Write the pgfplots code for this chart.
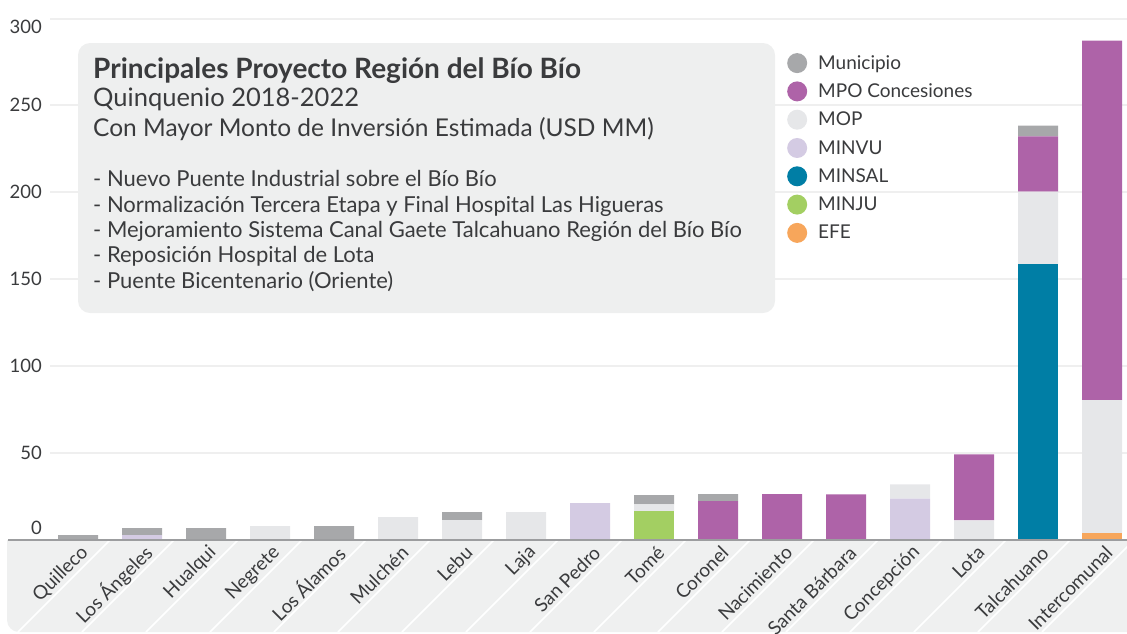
\documentclass[border=0pt]{standalone}
\usepackage{pgfplots}
\pgfplotsset{compat=1.18}
\usepackage{pgfplotstable}
\usepackage{fontspec}
\setmainfont{Lato}
\definecolor{cMun}{HTML}{A7A8AA}
\definecolor{cMPO}{HTML}{AE63A8}
\definecolor{cMOP}{HTML}{E6E7E9}
\definecolor{cMINVU}{HTML}{D4CBE3}
\definecolor{cMINSAL}{HTML}{007EA5}
\definecolor{cMINJU}{HTML}{A3CF62}
\definecolor{cEFE}{HTML}{F7A65B}
\definecolor{bandc}{HTML}{EFF0F0}
\definecolor{boxc}{HTML}{EEEFEF}
\definecolor{gridc}{HTML}{EFEFEF}
\definecolor{basec}{HTML}{9C9D9F}
\definecolor{textc}{HTML}{3A3B3D}

\pgfplotstableread{
x  EFE MINJU MINSAL MINVU MOP  MPO  Mun
0  0   0     0      0     0    0    2.5
1  0   0     0      2.5   0    0    4.0
2  0   0     0      0     0    0    6.5
3  0   0     0      0     7.7  0    0
4  0   0     0      0     0    0    7.7
5  0   0     0      0     12.9 0    0
6  0   0     0      0     11.1 0    4.6
7  0   0     0      0     15.7 0    0
8  0   0     0      20.9  0    0    0
9  0   16.3  0      0     4.0  0    5.2
10 0   0     0      0     0    22.1 4.0
11 0   0     0      0     0    26.1 0
12 0   0     0      0     0    26.0 0
13 0   0     0      23.6  8.1  0    0
14 0   0     0      0     11.0 38.0 0
15 0   0     158.7  0     41.6 31.8 6.2
16 3.5 0     0      0     76.8 207.0 0
}\datatable

\begin{document}
\begin{tikzpicture}[x=1pt,y=1pt]
% category band
\fill[bandc] (7,-540) -- (7,-620) arc[start angle=180,end angle=270,radius=12] -- (1127,-632) -- (1127,-540) -- cycle;
\begin{scope}
\clip (7,-540) -- (7,-620) arc[start angle=180,end angle=270,radius=12] -- (1127,-632) -- (1127,-540) -- cycle;
\foreach \i in {0,...,16}{
  \pgfmathsetmacro{\bx}{110+64*\i}
  \draw[white, line width=1.6pt] (\bx,-540) -- ({\bx-92},-632);
}
\end{scope}

\begin{axis}[
  at={(50pt,-539.5pt)}, anchor=south west,
  scale only axis, width=1077pt, height=521pt,
  xmin=-0.4375, xmax=16.39, ymin=0, ymax=300,
  ybar stacked, bar width=0.625,
  axis line style={draw=none}, tick style={draw=none},
  major tick length=0pt,
  ymajorgrids, grid style={line width=2pt, color=gridc},
  ytick={0,50,...,300},
  xtick={0,...,16},
  xticklabels={Quilleco,Los Ángeles,Hualqui,Negrete,Los Álamos,Mulchén,Lebu,Laja,San Pedro,Tomé,Coronel,Nacimiento,Santa Bárbara,Concepción,Lota,Talcahuano,Intercomunal},
  /pgf/number format/assume math mode=true,
  ticklabel style={text=textc},
  yticklabel style={font=\fontsize{18.5}{21}\selectfont, anchor=east, inner sep=0pt, xshift=-8pt},
  yticklabel={\ifnum\ticknum=0 \raisebox{11.5pt}[13pt][0pt]{\pgfmathprintnumber{\tick}}\else\ifnum\ticknum=6 \raisebox{-8.5pt}[13pt][0pt]{\pgfmathprintnumber{\tick}}\else\pgfmathprintnumber{\tick}\fi\fi},
  xticklabel style={font=\fontsize{19}{22}\selectfont, rotate=45, anchor=east, inner sep=0pt, xshift=-2pt, yshift=-12pt},
  clip=false,
  legend style={at={(0.6843,0.934)}, anchor=north west, draw=none, fill=none,
    font=\fontsize{19}{22}\selectfont, text=textc, row sep=8.3pt, inner sep=0pt,
    nodes={inner sep=1pt},
    /tikz/every odd column/.append style={column sep=10pt}},
  legend cell align=left,
  legend image code/.code={\fill[#1,draw=none] (0pt,0pt) circle (10pt);},
  reverse legend,
]
\addplot+[fill=cEFE, draw=none] table[x=x,y=EFE]{\datatable};
\addlegendentry{EFE}
\addplot+[fill=cMINJU, draw=none] table[x=x,y=MINJU]{\datatable};
\addlegendentry{MINJU}
\addplot+[fill=cMINSAL, draw=none] table[x=x,y=MINSAL]{\datatable};
\addlegendentry{MINSAL}
\addplot+[fill=cMINVU, draw=none] table[x=x,y=MINVU]{\datatable};
\addlegendentry{MINVU}
\addplot+[fill=cMOP, draw=none] table[x=x,y=MOP]{\datatable};
\addlegendentry{MOP}
\addplot+[fill=cMPO, draw=none] table[x=x,y=MPO]{\datatable};
\addlegendentry{MPO Concesiones}
\addplot+[fill=cMun, draw=none] table[x=x,y=Mun]{\datatable};
\addlegendentry{Municipio}
\end{axis}

\draw[basec, line width=2pt] (8,-539.5) -- (1127,-539.5);

% info box
\fill[boxc, rounded corners=12pt] (78,-43) rectangle (775,-313);
\begin{scope}[every node/.style={anchor=base west, inner sep=0pt, text=textc}]
\node[font=\fontsize{28}{32}\selectfont\bfseries] at (93,-78) {Principales Proyecto Región del Bío Bío};
\node[font=\fontsize{25.5}{28}\selectfont] at (93,-106) {Quinquenio 2018-2022};
\node[font=\fontsize{24.5}{28}\selectfont] at (93,-136) {Con Mayor Monto de Inversión Estimada (USD MM)};
\node[font=\fontsize{22}{24}\selectfont] at (93,-186) {- Nuevo Puente Industrial sobre el Bío Bío};
\node[font=\fontsize{22}{24}\selectfont] at (93,-212) {- Normalización Tercera Etapa y Final Hospital Las Higueras};
\node[font=\fontsize{22}{24}\selectfont] at (93,-237) {- Mejoramiento Sistema Canal Gaete Talcahuano Región del Bío Bío};
\node[font=\fontsize{22}{24}\selectfont] at (93,-262) {- Reposición Hospital de Lota};
\node[font=\fontsize{22}{24}\selectfont] at (93,-288) {- Puente Bicentenario (Oriente)};
\end{scope}

\pgfresetboundingbox
\useasboundingbox (0,0) rectangle (1127,-633);
\end{tikzpicture}
\end{document}
